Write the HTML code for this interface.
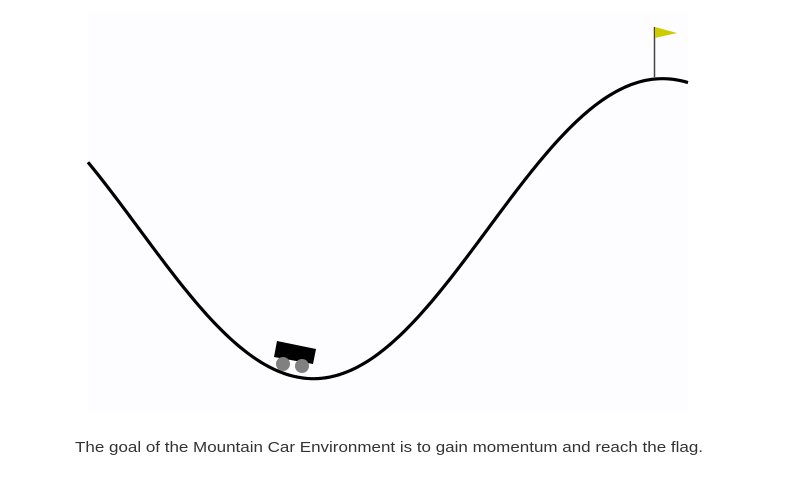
<!DOCTYPE html>
<html><head><meta charset="utf-8"><style>
html,body{margin:0;padding:0;background:#fff;width:793px;height:500px;overflow:hidden}
</style></head><body>
<svg width="793" height="500" viewBox="0 0 793 500" xmlns="http://www.w3.org/2000/svg">
<rect x="88" y="12" width="600" height="400" fill="#fdfcfe"/>
<path id="curve" d="" fill="none" stroke="#000" stroke-width="3.2" stroke-linejoin="round"/>
<polygon points="277,341 316,349 313,364 274,357" fill="#000"/>
<circle cx="283" cy="364" r="7" fill="#808080"/>
<circle cx="302" cy="366" r="7" fill="#808080"/>
<line x1="654.5" y1="27" x2="654.5" y2="77" stroke="#444" stroke-width="1.5"/>
<polygon points="655,27 655,38 677,33" fill="#cccc00"/>
<text x="75" y="452" font-family="Liberation Sans, sans-serif" font-size="14.5" fill="#333" textLength="628" lengthAdjust="spacingAndGlyphs">The goal of the Mountain Car Environment is to gain momentum and reach the flag.</text>
</svg>
<script>
var d="",s=600/1.8;
for(var i=0;i<=200;i++){var x=-1.2+1.8*i/200;var h=Math.sin(3*x)*0.45+0.55;
var px=88+(x+1.2)*s, py=12+400-h*s; d+=(i?"L":"M")+px.toFixed(2)+","+py.toFixed(2);}
document.getElementById("curve").setAttribute("d",d);
</script>
</body></html>
